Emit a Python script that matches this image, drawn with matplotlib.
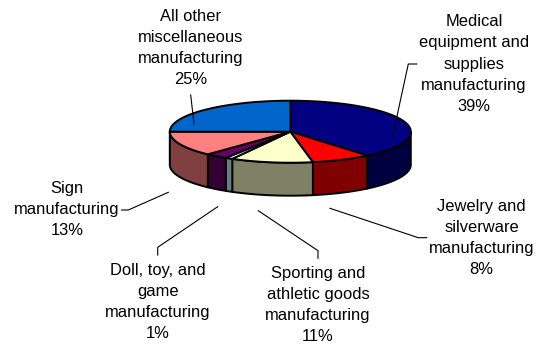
import numpy as np
import matplotlib
matplotlib.use("Agg")
import matplotlib.pyplot as plt

categories = ["Medical equipment and\nsupplies\nmanufacturing", "Jewelry and\nsilverware\nmanufacturing",
              "Sporting and\nathletic goods\nmanufacturing", "Doll, toy, and\ngame\nmanufacturing",
              "Other", "Sign\nmanufacturing", "All other\nmiscellaneous\nmanufacturing"]
values = [39, 8, 11, 1, 3, 13, 25]
top_colors = ["#000080", "#FF0000", "#FFFFCC", "#CCFFFF", "#660066", "#FF8080", "#0066CC"]
side_colors = ["#000040", "#800000", "#808066", "#668080", "#330033", "#804040", "#003366"]
labels = ["Medical\nequipment and\nsupplies\nmanufacturing\n39%",
          "Jewelry and\nsilverware\nmanufacturing\n8%",
          "Sporting and\nathletic goods\nmanufacturing\n11%",
          "Doll, toy, and\ngame\nmanufacturing\n1%",
          None,
          "Sign\nmanufacturing\n13%",
          "All other\nmiscellaneous\nmanufacturing\n25%"]
label_pos = [(474, 64), (481.7, 238.2), (318, 305.3), (157.7, 302), None, (67, 209.3), (190.7, 48)]
leaders = [[(392.7, 136), (408.3, 64), (416.7, 64)],
           [(330, 208.3), (418.3, 237.7), (426.7, 237.7)],
           [(258.3, 210.7), (318, 250.7), (318, 258.3)],
           [(217.7, 206.7), (157.7, 247.3), (157.7, 255)],
           None,
           [(168.3, 192.3), (128.3, 210), (121.7, 210)],
           [(194, 124), (190.7, 95)]]

W, H = 541, 345
cx, cy, a, b, depth = 290.3, 131.7, 120.5, 31, 33
fig = plt.figure(figsize=(W / 100, H / 100), dpi=100, facecolor="white")
ax = fig.add_axes([0, 0, 1, 1])
ax.set_xlim(0, W)
ax.set_ylim(H, 0)
ax.axis("off")
plt.rcParams["font.family"] = ["Liberation Sans", "DejaVu Sans"]

def rim(t0, t1):
    t = np.linspace(t0, t1, max(int((t1 - t0) * 60), 2))
    return cx + a * np.sin(t), cy - b * np.cos(t)

edges = np.cumsum([0] + values) / sum(values) * 2 * np.pi
for i in range(len(values)):
    t0, t1 = edges[i], edges[i + 1]
    lo, hi = max(t0, np.pi / 2), min(t1, 3 * np.pi / 2)
    if hi > lo:
        x, y = rim(lo, hi)
        ax.fill(np.r_[x, x[::-1]], np.r_[y, y[::-1] + depth], fc=side_colors[i],
                ec="black", lw=1.4, joinstyle="round", zorder=2)
for i in range(len(values)):
    x, y = rim(edges[i], edges[i + 1])
    ax.fill(np.r_[cx, x], np.r_[cy, y], fc=top_colors[i], ec="black", lw=1.4,
            joinstyle="round", zorder=3)

for lab, pos, seg in zip(labels, label_pos, leaders):
    if lab is None:
        continue
    ax.text(pos[0], pos[1], lab, ha="center", va="center", fontsize=11.9,
            linespacing=1.51, color="black", family=["Liberation Sans", "DejaVu Sans"], zorder=5)
    sx, sy = zip(*seg)
    ax.plot(sx, sy, color="black", lw=0.8, zorder=4)

fig.savefig("out.png", dpi=100)
